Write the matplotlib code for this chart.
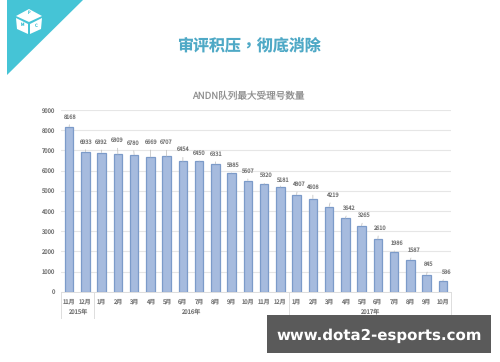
import matplotlib
matplotlib.use("Agg")
from matplotlib import pyplot as plt
from matplotlib.patches import Polygon, Rectangle

plt.rcParams["font.family"] = ["Noto Sans CJK SC", "DejaVu Sans"]
plt.rcParams["text.hinting"] = "no_hinting"
plt.rcParams["text.hinting_factor"] = 1

months = ["11月", "12月", "1月", "2月", "3月", "4月", "5月", "6月", "7月", "8月", "9月", "10月",
          "11月", "12月", "1月", "2月", "3月", "4月", "5月", "6月", "7月", "8月", "9月", "10月"]
values = [8168, 6933, 6892, 6809, 6780, 6669, 6707, 6454, 6450, 6331, 5885, 5507,
          5320, 5181, 4807, 4608, 4219, 3642, 3265, 2610, 1986, 1587, 845, 536]
years = ["2015年", "2016年", "2017年"]
year_counts = [2, 12, 10]
y_ticks = [0, 1000, 2000, 3000, 4000, 5000, 6000, 7000, 8000, 9000]

# label offsets from the bar top, in pixels
label_dx = [1, 0.5, 0, -0.5, -1, 0.5, 0, 0, 0.5, 1, 0.5, 0, 1, 2, 1.5, 0, 3, 3.5, 2, 1, 3, 3.5, 2, 3]
label_dy = [10, 10, 10.5, 14, 12, 15, 14, 12, 8.5, 10, 8, 9.5, 9, 7, 10.5, 11.5, 11.5, 10, 10.5, 11, 8.5, 9.5, 10.5, 9]

W, H = 500, 362
PX = 72 / 100

fig = plt.figure(figsize=(W / 100, H / 100), dpi=100)

# page layer in pixel coordinates
bg = fig.add_axes([0, 0, 1, 1])
bg.set_xlim(0, W)
bg.set_ylim(H, 0)
bg.axis("off")

bg.add_patch(Polygon([(7, 0), (83, 0), (7, 75)], color="#45c4d6", lw=0))
# cube logo
bg.add_patch(Polygon([(16, 16), (29, 9), (42, 16), (29, 22)], color="white", lw=0))
bg.add_patch(Polygon([(16, 18), (28, 24), (28, 34), (17, 29)], color="white", lw=0))
bg.add_patch(Polygon([(30, 24), (42, 18), (41, 29), (30, 34)], color="white", lw=0))
bg.text(29, 13, "P", fontsize=3, color="#45c4d6", ha="center", va="center")
bg.text(22, 25, "M", fontsize=3, color="#45c4d6", ha="center", va="center")
bg.text(36, 26, "C", fontsize=3, color="#45c4d6", ha="center", va="center")

bg.text(249, 46, "审评积压，彻底消除", fontsize=11.5, fontweight="bold", color="#4fa9c6",
        family="Noto Sans CJK TC", ha="center", va="center")
bg.text(248.5, 96, "ANDN队列最大受理号数量", fontsize=6.9, color="#8f8f8f",
        ha="center", va="center")

# chart
x0, x1, y_top, y_bot = 61, 451, 110, 291.7
ax = fig.add_axes([x0 / W, 1 - y_bot / H, (x1 - x0) / W, (y_bot - y_top) / H])
x = list(range(len(values)))
ax.bar(x, values, width=0.52, color="#a6bbde", edgecolor="#7c9bc9", linewidth=0.9, zorder=3)
ax.set_xlim(-0.5, len(values) - 0.5)
ax.set_ylim(0, 9000)
ax.set_yticks(y_ticks)
ax.set_xticks(x)
ax.set_xticklabels(months)
ax.tick_params(axis="both", length=0, labelsize=4.3, labelcolor="#757575")
ax.tick_params(axis="x", pad=4.5)
ax.tick_params(axis="y", pad=4.5)
ax.grid(axis="y", color="#e6e6e6", linewidth=0.8, zorder=0)
ax.set_axisbelow(True)
for name, spine in ax.spines.items():
    spine.set_visible(name == "bottom")
ax.spines["bottom"].set_color("#dddddd")
ax.spines["bottom"].set_linewidth(0.7)

for i, v in enumerate(values):
    ax.annotate(str(v), xy=(i, v), xytext=(label_dx[i] * PX, label_dy[i] * PX),
                textcoords="offset points", fontsize=4.1, color="#757575",
                ha="center", va="center", zorder=5,
                arrowprops=dict(arrowstyle="-", color="#bbbbbb", lw=0.5, shrinkA=1.5, shrinkB=0))

# year groups under the months
start = 0
trans = ax.get_xaxis_transform()
for year, count in zip(years, year_counts):
    ax.plot([start - 0.5, start - 0.5], [0, -0.142], transform=trans, color="#dddddd",
            lw=0.7, clip_on=False)
    ax.text(start - 0.5 + count / 2, -0.112, year, transform=trans, fontsize=4.3,
            color="#757575", ha="center", va="center")
    start += count
ax.plot([start - 0.5, start - 0.5], [0, -0.142], transform=trans, color="#dddddd",
        lw=0.7, clip_on=False)

# watermark banner
top = fig.add_axes([0, 0, 1, 1], zorder=10)
top.set_xlim(0, W)
top.set_ylim(H, 0)
top.axis("off")
top.add_patch(Rectangle((267, 315), 224, 38, color="#5a5a5a", lw=0))
top.text(379, 336, "www.dota2-esports.com", fontsize=10.7, fontweight="bold", color="white",
         family="DejaVu Sans", ha="center", va="center")

fig.savefig("out.png", dpi=100)
